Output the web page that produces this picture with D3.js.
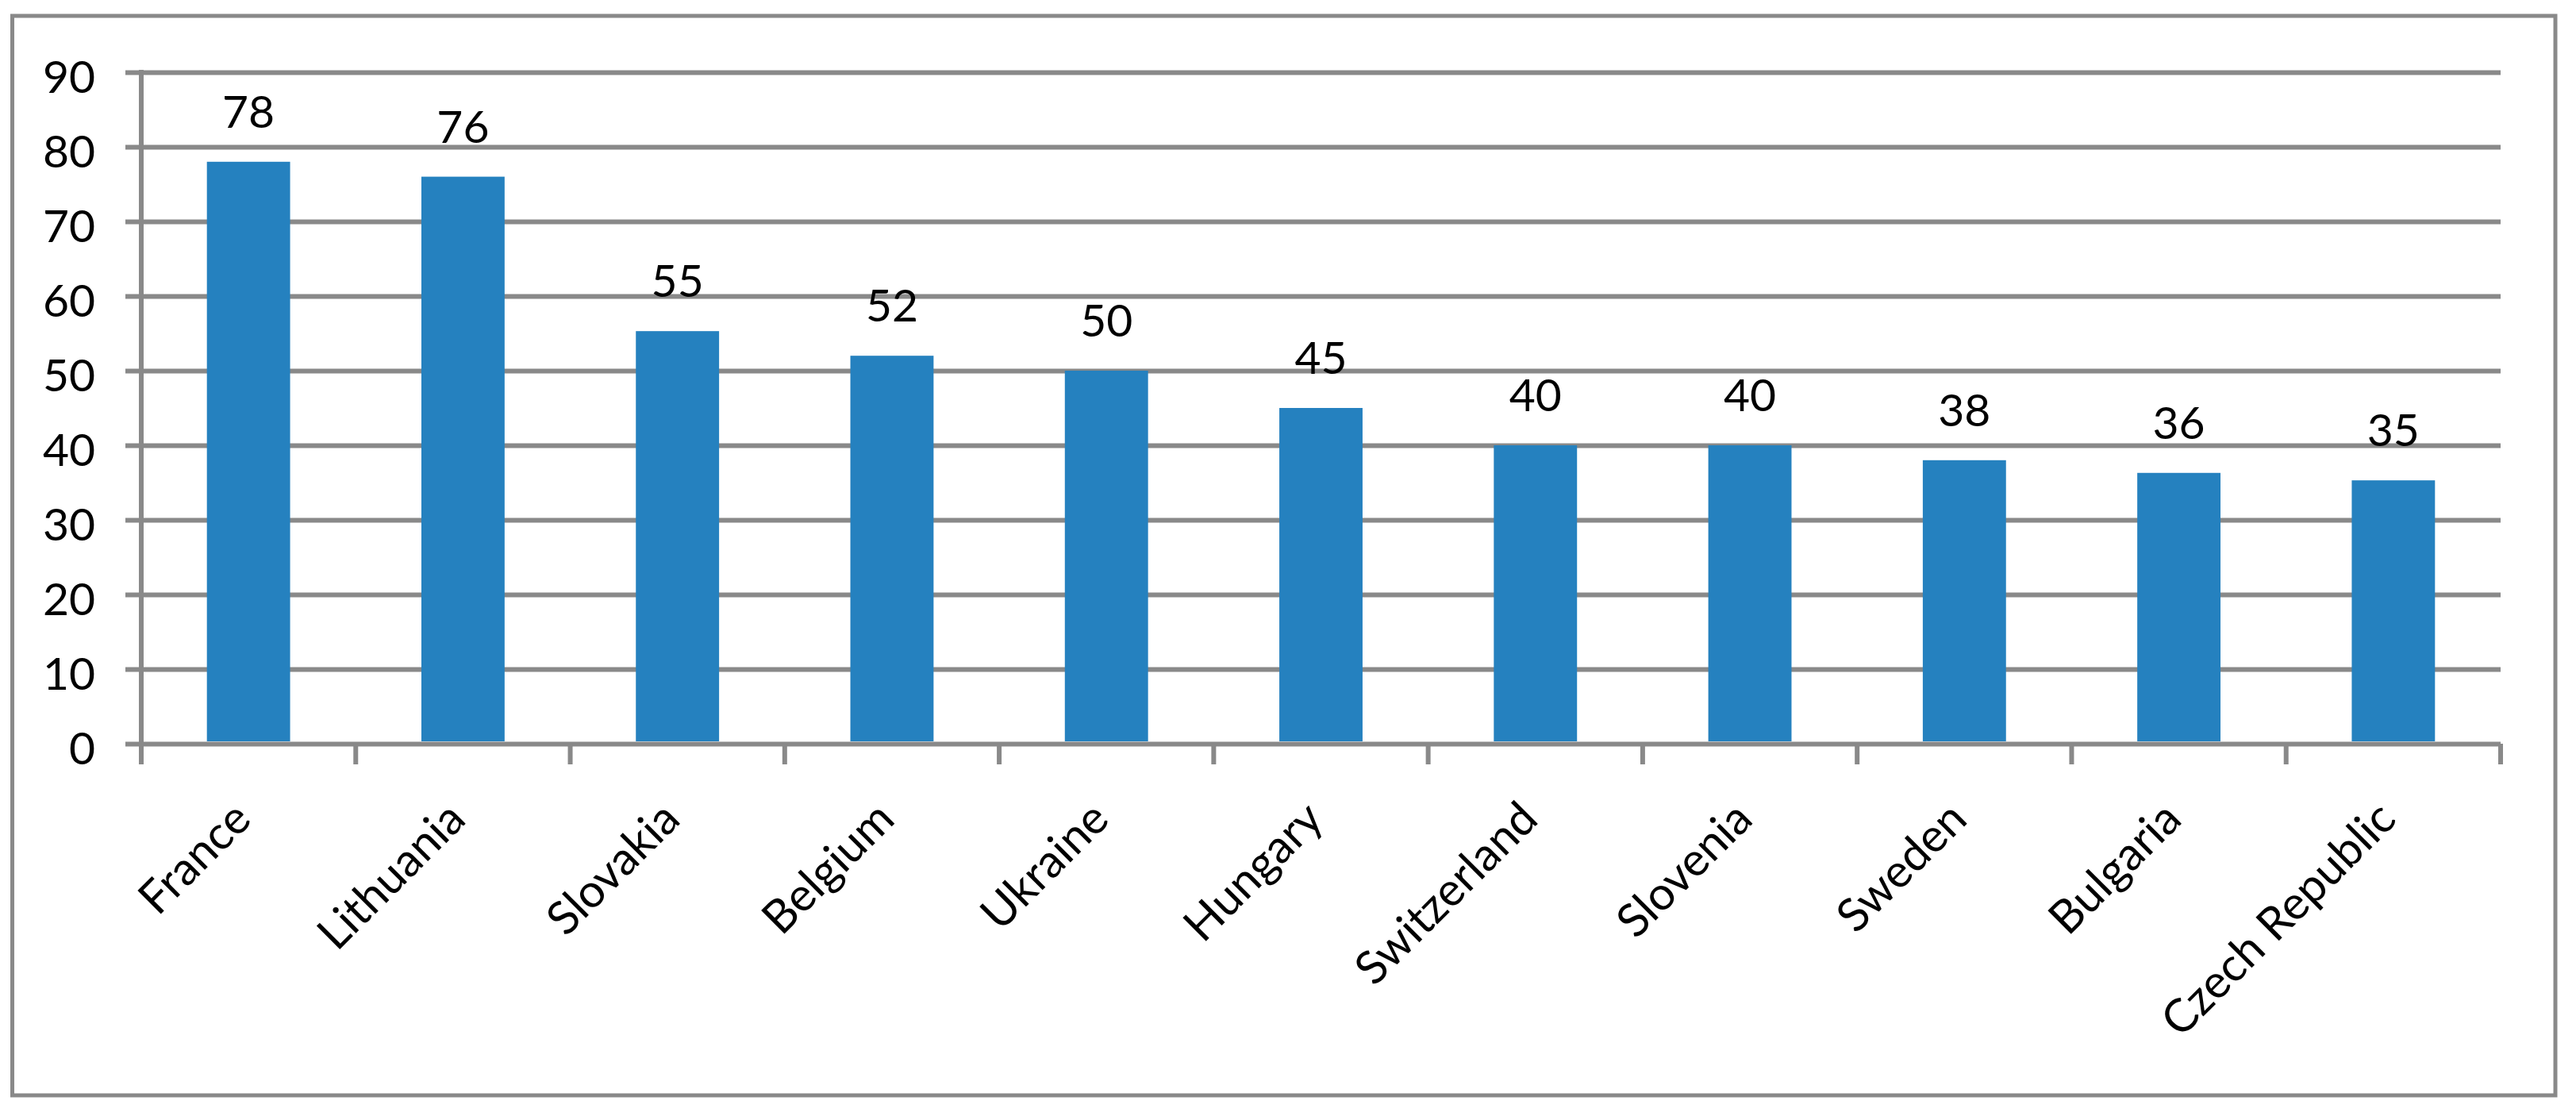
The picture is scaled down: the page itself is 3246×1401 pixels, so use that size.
<!DOCTYPE html>
<html>
<head>
<meta charset="utf-8">
<script src="https://cdn.jsdelivr.net/npm/d3@7"></script>
<style>
  body { margin: 0; background: #fff; }
  text { font-family: Lato, "Open Sans", sans-serif; fill: #000; }
</style>
</head>
<body>
<div id="chart"></div>
<script>
// data
var countries = ["France", "Lithuania", "Slovakia", "Belgium", "Ukraine", "Hungary",
  "Switzerland", "Slovenia", "Sweden", "Bulgaria", "Czech Republic"];
var values = [78, 76, 55.3, 52, 50, 45, 40, 40, 38, 36.3, 35.3];
var yTicks = [0, 10, 20, 30, 40, 50, 60, 70, 80, 90];

var W = 3246, H = 1401;
var plot = { left: 178, right: 3151, top: 91, bottom: 937 };
var grey = "#898989";

var svg = d3
  .select("#chart")
  .append("svg")
  .attr("width", W)
  .attr("height", H);

svg.append("rect").attr("width", W).attr("height", H).attr("fill", "#fff");

// outer frame
svg
  .append("rect")
  .attr("x", 15.5)
  .attr("y", 20)
  .attr("width", 3220 - 15.5)
  .attr("height", 1380 - 20)
  .attr("fill", "none")
  .attr("stroke", grey)
  .attr("stroke-width", 5);

var x = d3
  .scaleBand()
  .domain(countries)
  .range([plot.left, plot.right])
  .paddingInner(0.612)
  .paddingOuter(0.306);

var y = d3
  .scaleLinear()
  .domain([0, 90])
  .range([plot.bottom, plot.top]);

// Y axis with gridlines
var yAxis = svg
  .append("g")
  .attr("transform", "translate(158,0)")
  .call(
    d3.axisLeft(y)
      .tickValues(yTicks)
      .tickSize(-(plot.right - 158))
      .tickPadding(38)
  );
yAxis.select(".domain").remove();
yAxis.selectAll("line").attr("stroke", grey).attr("stroke-width", 6);
yAxis
  .selectAll("text")
  .attr("font-size", 57)
  .attr("dy", "0.45em")
  .style("font-family", "Lato");

// vertical axis line
svg
  .append("line")
  .attr("x1", plot.left).attr("x2", plot.left)
  .attr("y1", plot.top - 3).attr("y2", plot.bottom + 26)
  .attr("stroke", grey)
  .attr("stroke-width", 6);

// category boundary ticks
var step = x.step();
svg
  .append("g")
  .selectAll("line")
  .data(d3.range(1, countries.length + 1))
  .enter()
  .append("line")
  .attr("x1", (i) => plot.left + i * step)
  .attr("x2", (i) => plot.left + i * step)
  .attr("y1", plot.bottom)
  .attr("y2", plot.bottom + 26)
  .attr("stroke", grey)
  .attr("stroke-width", 6);

// bars
svg
  .append("g")
  .selectAll("rect")
  .data(values)
  .enter()
  .append("rect")
  .attr("x", (d, i) => x(countries[i]))
  .attr("width", x.bandwidth())
  .attr("y", (d) => y(d))
  .attr("height", (d) => y(0) - y(d) - 3)
  .attr("fill", "#2581BF");

// value labels
svg
  .append("g")
  .selectAll("text")
  .data(values)
  .enter()
  .append("text")
  .attr("x", (d, i) => x(countries[i]) + x.bandwidth() / 2)
  .attr("y", (d) => y(d) - 43)
  .attr("text-anchor", "middle")
  .attr("font-size", 57)
  .text((d) => d3.format(".0f")(d));

// category labels, rotated
svg
  .append("g")
  .selectAll("text")
  .data(countries)
  .enter()
  .append("text")
  .attr("transform", (d) =>
    "translate(" + (x(d) + x.bandwidth() / 2 + 6) + "," + (plot.bottom + 98) + ") rotate(-45)")
  .attr("text-anchor", "end")
  .attr("font-size", 58)
  .text((d) => d);
</script>
</body>
</html>
